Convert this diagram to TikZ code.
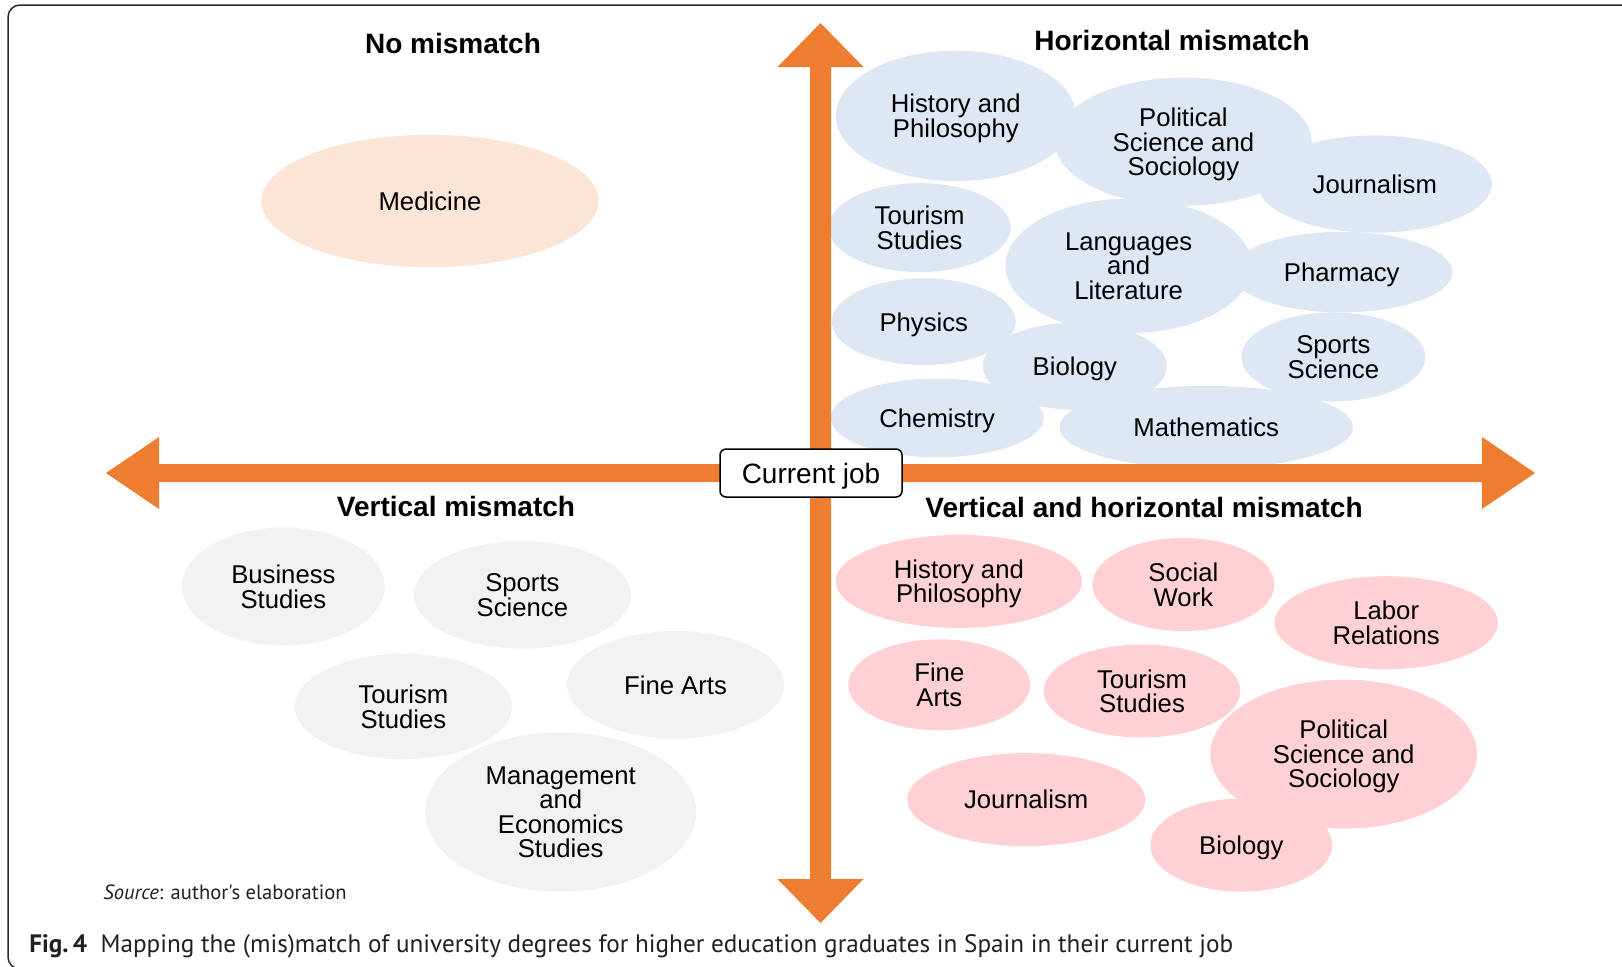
\documentclass[tikz,border=0pt]{standalone}
\usepackage{fontspec}
\setmainfont{Liberation Sans}
\newfontfamily\capfont{PT Sans}
\usetikzlibrary{shapes.geometric}
\definecolor{arrorange}{HTML}{ED7D31}
\definecolor{bblue}{HTML}{DEE8F5}
\definecolor{bpeach}{HTML}{FBE5D6}
\definecolor{bgrey}{HTML}{F2F2F2}
\definecolor{bpink}{HTML}{FFD1D4}
\definecolor{framecol}{HTML}{2B2B2B}
\definecolor{capcol}{HTML}{231F20}
\begin{document}
\begin{tikzpicture}[x=0.5pt,y=-0.5pt,
  bub/.style={ellipse, inner sep=0pt, align=center, text=black, text depth=0pt,
    font=\fontsize{12.85}{12.25}\selectfont},
  sz/.style 2 args={minimum width=#1pt, minimum height=#2pt},
  blueb/.style={bub, fill=bblue},
  greyb/.style={bub, fill=bgrey},
  pinkb/.style={bub, fill=bpink},
  peachb/.style={bub, fill=bpeach},
  qtitle/.style={font=\fontsize{14}{16}\selectfont\bfseries, text=black},
  jobbox/.style={draw=black, line width=0.75pt, fill=white, rounded corners=3pt,
    minimum width=91pt, minimum height=24pt, inner sep=0pt, text depth=0pt,
    font=\fontsize{14}{16}\selectfont}
]
\useasboundingbox (0,0) rectangle (1622,966);
% frame
\draw[framecol, line width=0.75pt, rounded corners=6pt]
  (1660,969) -- (8,969) -- (8,5) -- (1660,5);

% No mismatch
\node[qtitle] (t1) at (453,43) {No mismatch};
\node[peachb, sz={168.6}{66.2}] (med) at (430,201) {Medicine};

% Horizontal mismatch
\node[qtitle] (t2) at (1172,40) {Horizontal mismatch};
\node[blueb, sz={120}{65.2}] (hhp) at (955.8,115.9) {History and\\Philosophy};
\node[blueb, sz={128.3}{64.1}] (hpss) at (1183.4,141.7) {Political\\Science and\\Sociology};
\node[blueb, sz={116.9}{48.6}] (hjou) at (1374.8,184.1) {Journalism};
\node[blueb, sz={91}{44.5}] (htou) at (919.6,227.6) {Tourism\\Studies};
\node[blueb, sz={123.1}{67.2}] (hlan) at (1128.6,265.9) {Languages\\and\\Literature};
\node[blueb, sz={110.7}{40.3}] (hpha) at (1341.7,272.1) {Pharmacy};
\node[blueb, sz={92}{43.4}] (hphy) at (923.8,321.7) {Physics};
\node[blueb, sz={92}{43.4}] (hbio) at (1074.8,366.2) {Biology};
\node[blueb, sz={92}{44.5}] (hspo) at (1333.4,356.9) {Sports\\Science};
\node[blueb, sz={106.5}{39.3}] (hche) at (937.2,417.9) {Chemistry};
\node[blueb, sz={146.9}{41.4}] (hmat) at (1206.2,427.2) {Mathematics};

% Vertical mismatch
\node[qtitle] (t3) at (456,506) {Vertical mismatch};
\node[greyb, sz={101.4}{59}] (vbus) at (283.4,586.5) {Business\\Studies};
\node[greyb, sz={108.6}{53.8}] (vspo) at (522.4,594.8) {Sports\\Science};
\node[greyb, sz={108.6}{52.8}] (vtou) at (403.4,706.5) {Tourism\\Studies};
\node[greyb, sz={108.6}{53.8}] (vfin) at (675.5,684.8) {Fine Arts};
\node[greyb, sz={135.5}{79.7}] (vman) at (560.7,812) {Management\\and\\Economics\\Studies};

% Vertical and horizontal mismatch
\node[qtitle] (t4) at (1144,507) {Vertical and horizontal mismatch};
\node[pinkb, sz={123.1}{46.5}] (bhp) at (958.9,581.4) {History and\\Philosophy};
\node[pinkb, sz={91}{46.5}] (bsoc) at (1183.4,584.5) {Social\\Work};
\node[pinkb, sz={111.7}{46.5}] (blab) at (1386.2,622.7) {Labor\\Relations};
\node[pinkb, sz={91}{45.5}] (bfin) at (939.3,684.8) {Fine\\Arts};
\node[pinkb, sz={98.3}{46.5}] (btou) at (1142,691) {Tourism\\Studies};
\node[pinkb, sz={133.4}{74.5}] (bpss) at (1343.7,754.1) {Political\\Science and\\Sociology};
\node[pinkb, sz={119}{46.5}] (bjou) at (1026.2,799.6) {Journalism};
\node[pinkb, sz={91}{46.5}] (bbio) at (1241.3,845.1) {Biology};

% axes
\fill[arrorange] (106,473) -- (159,437) -- (159,464) -- (1482,464) -- (1482,437)
  -- (1535,473) -- (1482,509) -- (1482,482) -- (159,482) -- (159,509) -- cycle;
\fill[arrorange] (820.5,23) -- (863.5,67) -- (831,67) -- (831,879) -- (863.5,879)
  -- (820.5,923) -- (777.5,879) -- (810,879) -- (810,67) -- (777.5,67) -- cycle;
\node[jobbox] (job) at (811,473) {Current job};

% source and caption
\node[anchor=base west, inner sep=0pt, text=capcol, font=\capfont\fontsize{10.3}{12}\selectfont]
  (src) at (103,899) {\textit{Source}: author's elaboration};
\node[anchor=base west, inner sep=0pt, text=capcol, font=\capfont\fontsize{12.6}{14}\selectfont]
  (cap) at (29,952) {\textbf{Fig.\,4}\ \ Mapping the (mis)match of university degrees for higher education graduates in Spain in their current job};
\end{tikzpicture}
\end{document}
